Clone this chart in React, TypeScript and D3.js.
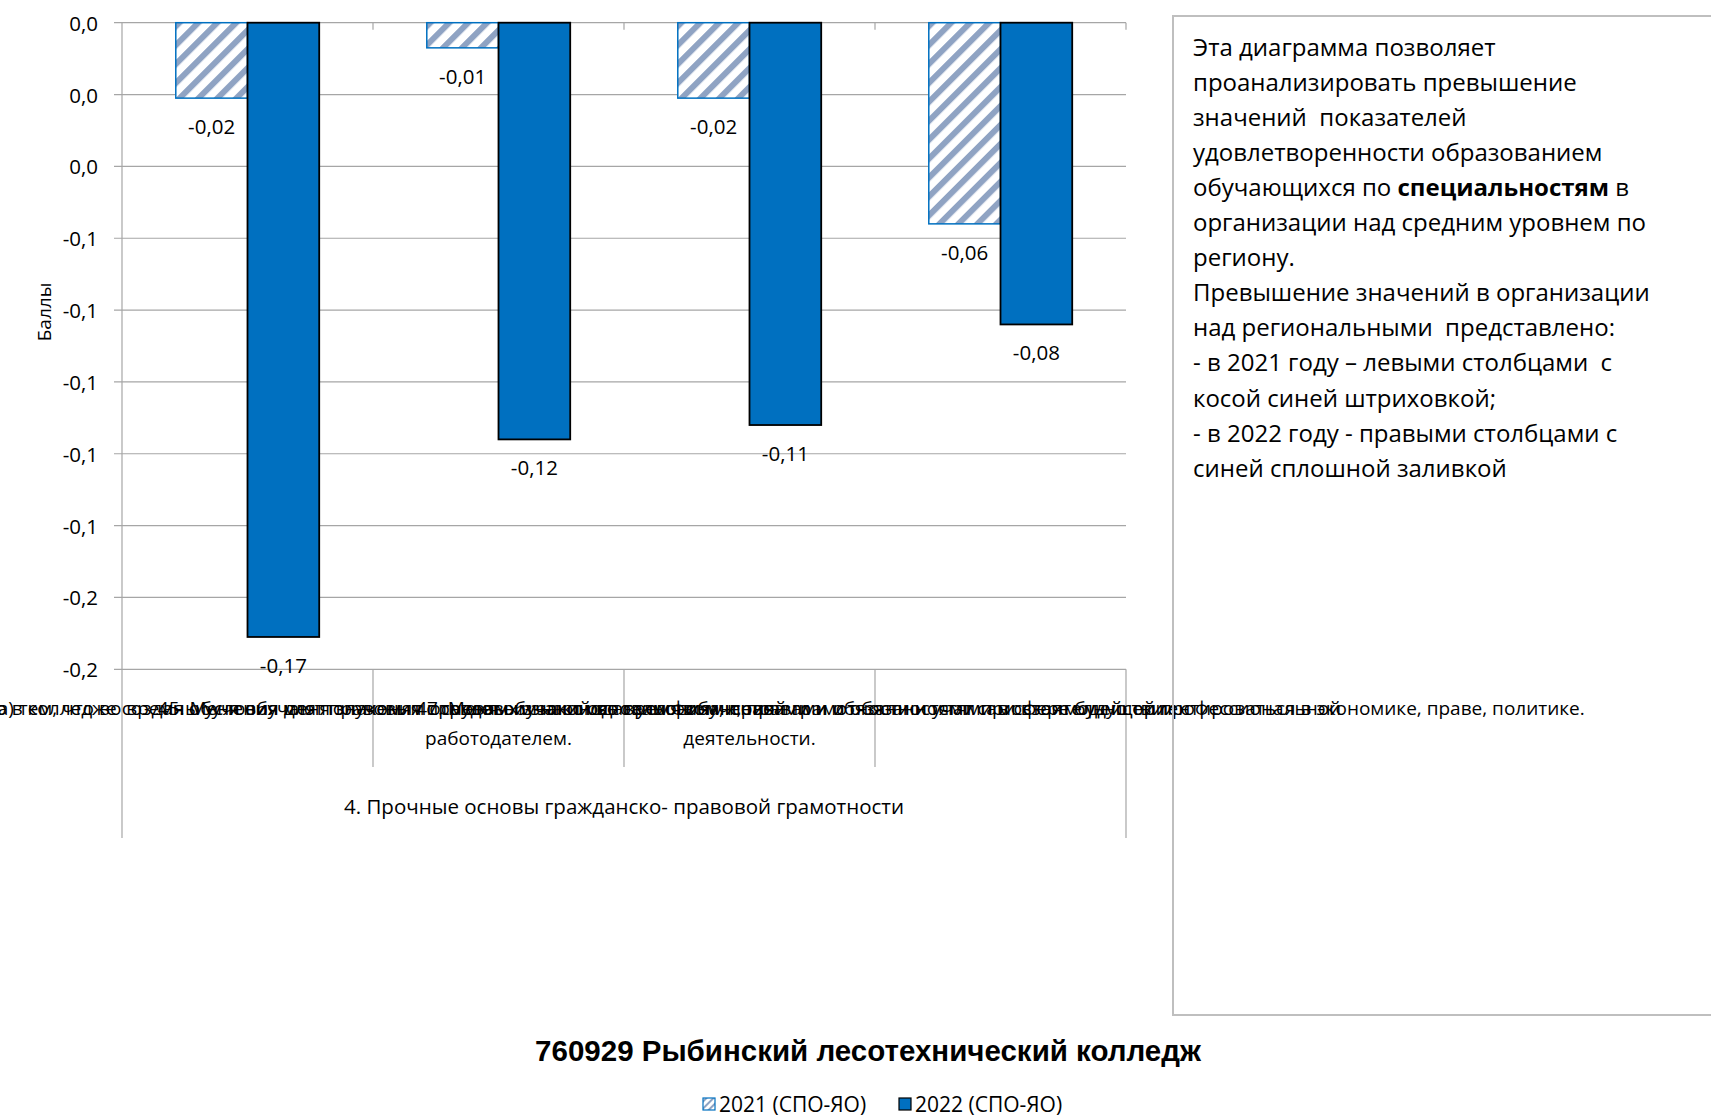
import * as d3 from "d3";

// values (difference vs regional mean, points)
const categories = ["q26", "q27", "q45", "q47"];
const catLabelLines: string[][] = [
  ["26. Я удовлетворен(-а) тем, что в колледже созданы условия для получения правовых знаний во время обучения"],
  ["27. Я удовлетворен(-а) тем, что во время обучения меня знакомят с трудовым законодательством, правами и обязанностями при взаимодействии с", "работодателем."],
  ["45. Меня обучают правовым основам и знакомят с условиями, правами и обязанностями в сфере будущей профессиональной", "деятельности."],
  ["47. Меня обучают основам финансовой грамотности и учат самостоятельно ориентироваться в экономике, праве, политике."],
];
const groupLabel = "4. Прочные основы гражданско- правовой грамотности";
const seriesNames = ["2021 (СПО-ЯО)", "2022 (СПО-ЯО)"];
const values2021 = [-0.021, -0.007, -0.021, -0.056];
const values2022 = [-0.171, -0.116, -0.112, -0.084];
const yTicks = [0, -0.02, -0.04, -0.06, -0.08, -0.1, -0.12, -0.14, -0.16, -0.18];

const title = "760929 Рыбинский лесотехнический колледж";
const noteLines: {text: string; bold?: string; after?: string}[] = [
  {text: "Эта диаграмма позволяет"},
  {text: "проанализировать превышение"},
  {text: "значений  показателей"},
  {text: "удовлетворенности образованием"},
  {text: "обучающихся по ", bold: "специальностям", after: " в"},
  {text: "организации над средним уровнем по"},
  {text: "региону."},
  {text: "Превышение значений в организации"},
  {text: "над региональными  представлено:"},
  {text: "- в 2021 году – левыми столбцами  с"},
  {text: "косой синей штриховкой;"},
  {text: "- в 2022 году - правыми столбцами с"},
  {text: "синей сплошной заливкой"},
];

const W = 1711;
const H = 1118;
const plot = {left: 122, right: 1126, top: 22.7, bottom: 669.3};
const font = "'Open Sans', 'Noto Sans', sans-serif";
const blue = "#0070C0";
const grid = "#A6A6A6";

const fmtTick = (v: number) => {
  let s = v.toFixed(1);
  if (s === "-0.0") s = "0.0";
  return s.replace(".", ",");
};
const fmtVal = (v: number) => v.toFixed(2).replace(".", ",");

export default function App() {
  const x0 = d3.scaleBand<string>().domain(categories).range([plot.left, plot.right]).padding(0);
  const x1 = d3.scaleBand<string>().domain(seriesNames).range([0, x0.bandwidth()])
    .paddingInner(0).paddingOuter(0.75);
  const y = d3.scaleLinear().domain([-0.18, 0]).range([plot.bottom, plot.top]);

  const rows = categories.map((c, i) => ({c, vals: [values2021[i], values2022[i]]}));
  const bounds = categories.map(c => x0(c)!).concat([plot.right]);

  return (
    <svg width={W} height={H} style={{position: "absolute", left: 0, top: 0, background: "#fff"}}
         fontFamily={font}>
      <defs>
        <pattern id="hatch" patternUnits="userSpaceOnUse" width={13.4} height={13.4}
                 patternTransform="rotate(45)">
          <rect width={13.4} height={13.4} fill="#fff"/>
          <line x1={3} y1={0} x2={3} y2={13.4} stroke="#8FA3C3" strokeWidth={6}/>
        </pattern>
        <pattern id="hatchSmall" patternUnits="userSpaceOnUse" width={5} height={5}
                 patternTransform="rotate(45)">
          <rect width={5} height={5} fill="#fff"/>
          <line x1={1} y1={0} x2={1} y2={5} stroke="#8FA3C3" strokeWidth={2}/>
        </pattern>
      </defs>
      <rect width={W} height={H} fill="#fff"/>

      {/* gridlines + y ticks */}
      {yTicks.map(t => (
        <g key={t}>
          <line x1={plot.left - 8} x2={plot.right} y1={y(t)} y2={y(t)} stroke={grid} strokeWidth={1.2}/>
          <text x={98} y={y(t)} textAnchor="end" dominantBaseline="central" fontSize={20.5}>{fmtTick(t)}</text>
        </g>
      ))}
      <text transform={`translate(44,312) rotate(-90)`} textAnchor="middle" dominantBaseline="central"
            fontSize={19}>Баллы</text>

      {/* top category axis ticks (axis crosses at 0) */}
      {bounds.slice(1).map((b, i) => (
        <line key={i} x1={b} x2={b} y1={plot.top} y2={plot.top + 7} stroke={grid} strokeWidth={1.2}/>
      ))}

      {/* bars */}
      {rows.map(r => (
        <g key={r.c} transform={`translate(${x0(r.c)},0)`}>
          {r.vals.map((v, j) => {
            const s = seriesNames[j];
            const bx = x1(s)!;
            const bw = x1.bandwidth();
            return (
              <g key={s}>
                <rect x={bx} y={y(0)} width={bw} height={y(v) - y(0)}
                      fill={j === 0 ? "url(#hatch)" : blue}
                      stroke={j === 0 ? blue : "#000"} strokeWidth={j === 0 ? 1.5 : 1.8}/>
                <text x={bx + bw / 2} y={y(v) + 28} textAnchor="middle" dominantBaseline="central"
                      fontSize={20.5}>{fmtVal(v)}</text>
              </g>
            );
          })}
        </g>
      ))}

      {/* y axis line + multi-level category axis frame */}
      <line x1={plot.left} x2={plot.left} y1={plot.top} y2={838} stroke={grid} strokeWidth={1.2}/>
      <line x1={plot.right} x2={plot.right} y1={plot.bottom} y2={838} stroke={grid} strokeWidth={1.2}/>
      {bounds.slice(1, -1).map((b, i) => (
        <line key={i} x1={b} x2={b} y1={plot.bottom} y2={767} stroke={grid} strokeWidth={1.2}/>
      ))}

      {/* category labels (they overflow and overlap, as in the source) */}
      {categories.map((c, i) => (
        <text key={c} x={x0(c)! + x0.bandwidth() / 2} textAnchor="middle" fontSize={19}>
          {catLabelLines[i].map((ln, k) => (
            <tspan key={k} x={x0(c)! + x0.bandwidth() / 2} y={715 + k * 30}>{ln}</tspan>
          ))}
        </text>
      ))}
      <text x={(plot.left + plot.right) / 2} y={814} textAnchor="middle" fontSize={20.5}>{groupLabel}</text>

      {/* note box */}
      <rect x={1173} y={16} width={620} height={999} fill="none" stroke="#BFBFBF" strokeWidth={2}/>
      {noteLines.map((ln, i) => (
        <text key={i} x={1193} y={46 + i * 35.1} dominantBaseline="central" fontSize={24}
              style={{whiteSpace: "pre"}}>
          {ln.text}
          {ln.bold && <tspan fontWeight="bold">{ln.bold}</tspan>}
          {ln.after}
        </text>
      ))}

      {/* title */}
      <text x={868} y={1050} textAnchor="middle" dominantBaseline="central" fontSize={29.5}
            fontWeight="bold" fontFamily="'Liberation Sans', Arial, sans-serif">{title}</text>

      {/* legend */}
      {seriesNames.map((s, i) => {
        const lx = [703, 899][i];
        return (
          <g key={s}>
            <rect x={lx} y={1098} width={12} height={12} fill={i === 0 ? "url(#hatchSmall)" : blue}
                  stroke={i === 0 ? blue : "#000"} strokeWidth={1.2}/>
            <text x={lx + 16} y={1104} dominantBaseline="central" fontSize={21}>{s}</text>
          </g>
        );
      })}
    </svg>
  );
}
